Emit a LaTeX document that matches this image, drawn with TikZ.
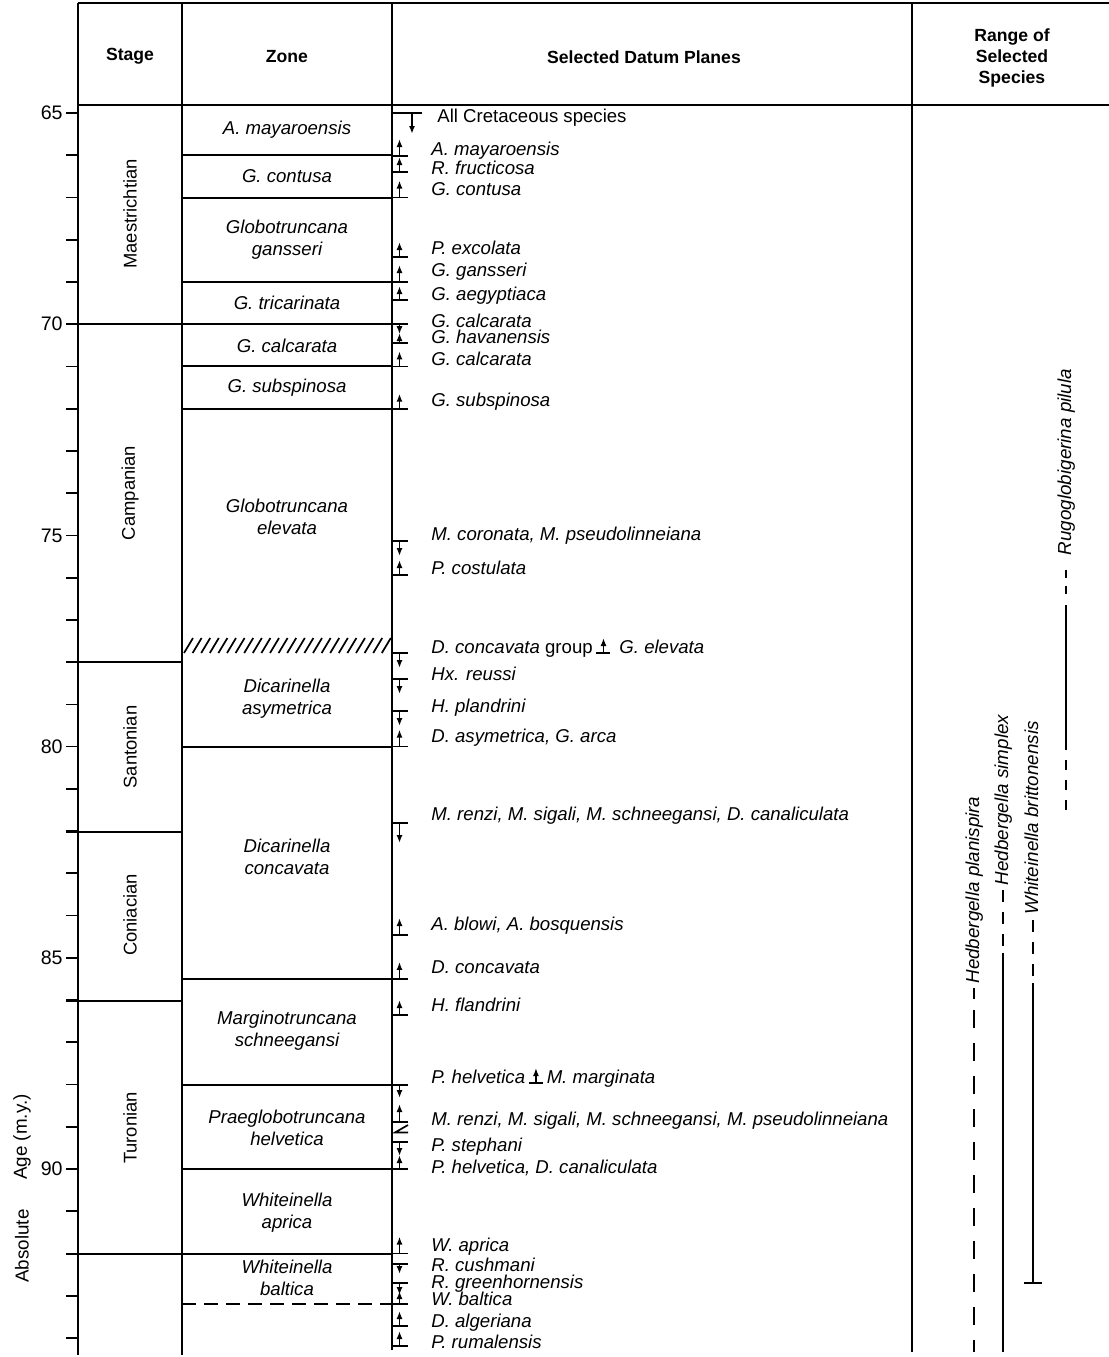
\documentclass[tikz,border=0pt]{standalone}
\usepackage{fontspec}
\setmainfont{Liberation Sans}
\usetikzlibrary{arrows.meta}
\tikzset{
  frame/.style={line width=1pt},
  tk/.style={line width=0.85pt},
  marr/.style={line width=0.8pt,-{Latex[length=4pt,width=3pt]}},
  dtxt/.style={anchor=west,inner sep=0pt,font=\fontsize{9.3}{11}\selectfont\itshape,text height=7pt,text depth=2pt},
  ztxt/.style={align=center,inner sep=0pt,font=\fontsize{9.3}{11}\selectfont\itshape},
  stxt/.style={rotate=90,inner sep=0pt,font=\fontsize{9.2}{11}\selectfont},
  htxt/.style={align=center,inner sep=0pt,font=\fontsize{8.8}{10.6}\selectfont\bfseries},
  rtxt/.style={rotate=90,inner sep=0pt,font=\fontsize{9.4}{12}\selectfont\itshape,text height=7pt,text depth=2pt},
  rline/.style={line width=1pt},
  albl/.style={anchor=east,inner sep=0pt,font=\fontsize{9.8}{11}\selectfont},
  axl/.style={rotate=90,inner sep=0pt,font=\fontsize{9.4}{11}\selectfont},
}
\newcommand\fadsym{\tikz[baseline=0pt]{\draw[line width=0.7pt] (0pt,0pt)--(7pt,0pt); \draw[marr] (3.5pt,0pt)--(3.5pt,7.5pt);}}
\begin{document}
\begin{tikzpicture}[x=0.5pt,y=-0.5pt]
\useasboundingbox (0,0) rectangle (1109,1357);
% frame
\draw[frame] (78,3)--(1109,3);
\draw[frame] (78,105)--(1109,105);
\draw[frame] (78,3)--(78,1355);
\draw[frame] (182,3)--(182,1355);
\draw[frame] (392,3)--(392,1350);
\draw[frame] (912,3)--(912,1352);
% headers
\node[htxt] (hstage) at (130,56) {Stage};
\node[htxt] (hzone) at (287,57) {Zone};
\node[htxt] (hdatum) at (644,57) {Selected Datum Planes};
\node[htxt] (hrange) at (1012,58) {Range of\\Selected\\Species};
% age ticks
\foreach \a in {65,...,94} \draw[tk] (66,{113+42.24*(\a-65)})--(78,{113+42.24*(\a-65)});
\foreach \a in {65,70,75,80,85,90} \node[albl] (t\a) at (63,{113+42.24*(\a-65)}) {\a};
\node[axl] (axa) at (22,1246) {Absolute};
\node[axl] (axb) at (22,1137) {Age (m.y.)};
% stage boundaries
\foreach \y in {324.2,662,831.6,1000.6,1253.5} \draw[frame] (66,\y)--(182,\y);
\node[stxt] (s1) at (130,214) {Maestrichtian};
\node[stxt] (s2) at (130,493) {Campanian};
\node[stxt] (s3) at (130,747) {Santonian};
\node[stxt] (s4) at (130,915) {Coniacian};
\node[stxt] (s5) at (130,1128) {Turonian};
% zone boundaries
\foreach \y in {155.2,197.5,282,324.2,366.4,408.7,746.6,978.9,1085,1169,1253.5} \draw[frame] (182,\y)--(392,\y);
\draw[tk,dash pattern=on 7pt off 4pt] (182,1304)--(392,1304);
\foreach \x in {184,192.6,...,384} \draw[tk] (\x,653)--({\x+9},638);
% zone names
\node[ztxt] (z1) at (287,130) {A. mayaroensis};
\node[ztxt] (z2) at (287,176.5) {G. contusa};
\node[ztxt] (z3) at (287,240) {Globotruncana\\gansseri};
\node[ztxt] (z4) at (287,303) {G. tricarinata};
\node[ztxt] (z5) at (287,345.5) {G. calcarata};
\node[ztxt] (z6) at (287,388) {G. subspinosa};
\node[ztxt] (z7) at (287,517) {Globotruncana\\elevata};
\node[ztxt] (z8) at (287,699) {Dicarinella\\asymetrica};
\node[ztxt] (z9) at (287,857) {Dicarinella\\concavata};
\node[ztxt] (z10) at (287,1031) {Marginotruncana\\schneegansi};
\node[ztxt] (z11) at (287,1128) {Praeglobotruncana\\helvetica};
\node[ztxt] (z12) at (287,1213) {Whiteinella\\aprica};
\node[ztxt] (z13) at (287,1278) {Whiteinella\\baltica};
% datum markers
\draw[tk] (392,113)--(422,113);
\draw[marr] (412,113)--(412,134);
\foreach \y/\d/\l in {156/-1/17,172/-1/15,197.5/-1/17,257/-1/15,282/-1/17,300/-1/14,324.2/1/10,343/-1/10,366.4/-1/15,408.7/-1/15,541/1/15,575/-1/15,653/1/15,679/1/15,711/1/15,746.6/-1/17,823/1/20,935/-1/17,978.9/-1/17,1015/-1/15,1085/1/13,1122/-1/18,1142/1/14,1169/-1/14,1253.5/-1/17,1264/1/10,1283/1/12,1304/-1/13,1326/-1/15,1346/-1/15}{
  \draw[tk] (392,\y)--(408,\y);
  \draw[marr] (399.5,\y)--(399.5,{\y+\d*\l});
}
\draw[tk] (408,1125)--(395,1132.5)--(408,1132.5);
% datum texts
\node[dtxt] (d0) at (437,117) {\upshape All Cretaceous species};
\foreach \y/\t [count=\i] in {150/{A. mayaroensis},169/{R. fructicosa},190/{G. contusa},249/{P. excolata},271/{G. gansseri},295/{G. aegyptiaca},322/{G. calcarata},338/{G. havanensis},360/{G. calcarata},401/{G. subspinosa},535/{M. coronata, M. pseudolinneiana},569/{P. costulata},675/{Hx. reussi},707/{H. plandrini},737/{D. asymetrica, G. arca},815/{M. renzi, M. sigali, M. schneegansi, D. canaliculata},925/{A. blowi, A. bosquensis},968/{D. concavata},1006/{H. flandrini},1120/{M. renzi, M. sigali, M. schneegansi, M. pseudolinneiana},1146/{P. stephani},1168/{P. helvetica, D. canaliculata},1246/{W. aprica},1266/{R. cushmani},1283/{R. greenhornensis},1300/{W. baltica},1322/{D. algeriana},1343/{P. rumalensis}}
  \node[dtxt] (d\i) at (431,\y) {\t};
\node[dtxt] (dx1) at (431,648) {D. concavata {\upshape group}\,\fadsym\, G. elevata};
\node[dtxt] (dx2) at (431,1078) {P. helvetica\,\fadsym\,M. marginata};
% ranges
\node[rtxt] (r1) at (974,890) {Hedbergella planispira};
\draw[rline] (974,988)--(974,999);
\draw[rline,dash pattern=on 9pt off 7.5pt] (974,1010)--(974,1352);
\node[rtxt] (r2) at (1003,800) {Hedbergella simplex};
\draw[rline,dash pattern=on 6pt off 5pt] (1003,890)--(1003,950);
\draw[rline] (1003,953)--(1003,1352);
\node[rtxt] (r3) at (1033,818) {Whiteinella brittonensis};
\draw[rline,dash pattern=on 6pt off 5pt] (1033,920)--(1033,979);
\draw[rline] (1033,983)--(1033,1283);
\draw[rline] (1024,1283)--(1042,1283);
\node[rtxt] (r4) at (1066,462) {Rugoglobigerina pilula};
\draw[rline,dash pattern=on 4pt off 4pt] (1066,570)--(1066,600);
\draw[rline] (1066,605)--(1066,750);
\draw[rline,dash pattern=on 5pt off 5pt] (1066,760)--(1066,810);
\end{tikzpicture}
\end{document}
